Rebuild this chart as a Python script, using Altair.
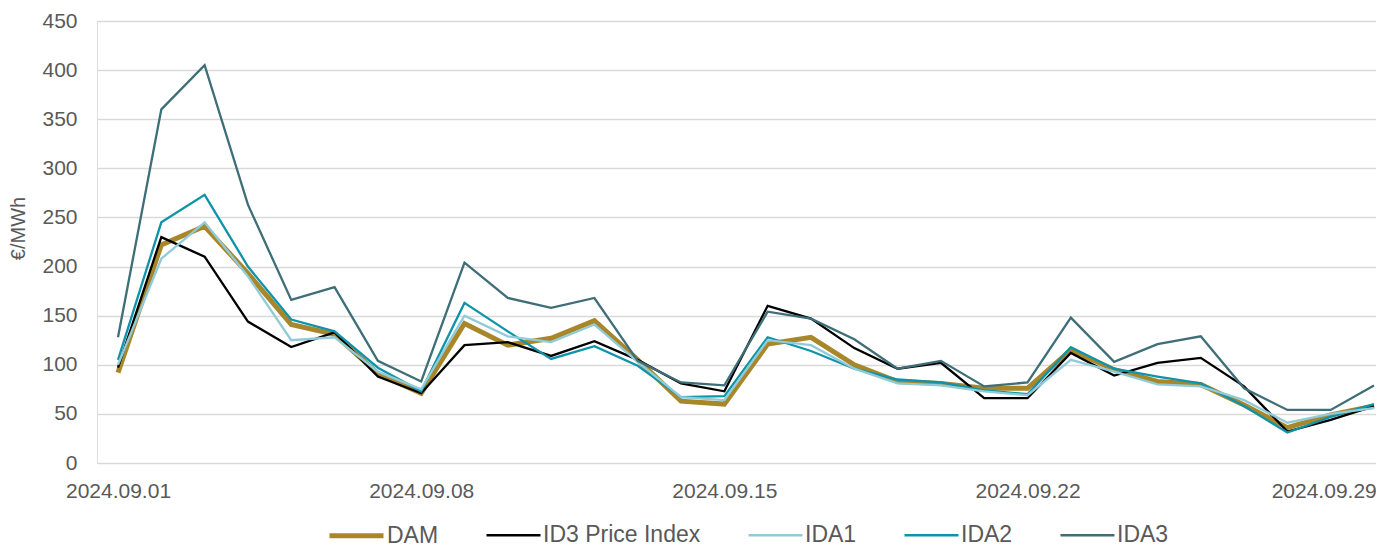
import altair as alt
import pandas as pd

# ---- data ----
dates = [f"2024.09.{d:02d}" for d in range(1, 31)]
series_names = ["DAM", "ID3 Price Index", "IDA1", "IDA2", "IDA3"]

DAM = [92, 222, 241, 193, 141, 131, 91, 71, 142, 120, 127, 145, 105, 63, 60,
       121, 128, 100, 83, 81, 76, 76, 115, 95, 83, 80, 59, 36, 49, 58]
ID3 = [97, 230, 210, 144, 118, 133, 88, 71, 120, 123, 109, 124, 105, 81, 73,
       160, 147, 117, 96, 102, 66, 66, 112, 89, 102, 107, 78, 32, 44, 58]
IDA1 = [100, 208, 245, 190, 125, 128, 93, 75, 150, 129, 123, 141, 103, 67, 64,
        125, 120, 96, 81, 79, 73, 69, 105, 93, 80, 78, 64, 41, 50, 56]
IDA2 = [105, 245, 273, 200, 146, 134, 97, 73, 163, 134, 106, 119, 99, 67, 68,
        128, 114, 96, 85, 82, 74, 70, 118, 96, 88, 81, 58, 31, 47, 60]
IDA3 = [128, 360, 405, 263, 166, 179, 104, 83, 204, 168, 158, 168, 104, 82, 79,
        154, 147, 126, 96, 104, 78, 82, 148, 103, 121, 129, 76, 54, 54, 79]

x_tick_labels = ["2024.09.01", "2024.09.08", "2024.09.15", "2024.09.22", "2024.09.29"]
y_ticks = [0, 50, 100, 150, 200, 250, 300, 350, 400, 450]

colors = ["#A8862A", "#000000", "#8FCBD8", "#0E93A9", "#3E6E77"]
widths = [5, 2.3, 2.3, 2.3, 2.3]
draw_order = ["DAM", "ID3 Price Index", "IDA2", "IDA1", "IDA3"]

values = {"DAM": DAM, "ID3 Price Index": ID3, "IDA1": IDA1, "IDA2": IDA2, "IDA3": IDA3}
rows = []
for s in series_names:
    for dt, v in zip(dates, values[s]):
        rows.append({"date": dt, "day": int(dt[-2:]), "series": s, "value": v})
df = pd.DataFrame(rows)

tick_days = [int(t[-2:]) for t in x_tick_labels]

FONT = "Liberation Sans"
GREY = "#595959"

legend = alt.Legend(
    title=None, orient="none", legendX=230, legendY=485, direction="horizontal",
    symbolType="stroke", symbolSize=2916, labelOffset=1, columnPadding=42,
    labelFontSize=23, labelColor=GREY, labelFont=FONT, padding=0,
    labelLimit=400,
)

base = alt.Chart(df).encode(
    x=alt.X("day:Q",
            scale=alt.Scale(domain=[0.515, 30.046], nice=False, zero=False),
            axis=alt.Axis(values=tick_days, title=None, grid=False, domain=False, ticks=False,
                          labelExpr="'2024.09.' + (datum.value < 10 ? '0' : '') + datum.value",
                          labelPadding=17, labelFontSize=21, labelColor=GREY, labelFont=FONT,
                          labelFlush=False, labelOverlap=False,
                          labelOffset={"condition": {"test": "datum.value == 29", "value": -7},
                                       "value": 0})),
    y=alt.Y("value:Q",
            scale=alt.Scale(domain=[0, 450], nice=False),
            axis=alt.Axis(values=y_ticks, title="€/MWh", grid=True, gridColor="#D9D9D9",
                          gridWidth=1.5, domain=False, ticks=False, labelPadding=20,
                          labelFontSize=21, labelColor=GREY, labelFont=FONT,
                          titleFontSize=20, titleFontWeight="normal", titleColor=GREY,
                          titleFont=FONT, titleX=-73, titleY=207, titleAngle=-90,
                          titleAlign="center", titleBaseline="alphabetic")),
    color=alt.Color("series:N", scale=alt.Scale(domain=series_names, range=colors), legend=legend),
    strokeWidth=alt.StrokeWidth("series:N",
                                scale=alt.Scale(type="ordinal", domain=series_names, range=widths),
                                legend=legend),
)

layers = [base.transform_filter(alt.datum.series == s).mark_line() for s in draw_order]

chart = alt.layer(*layers).properties(
    width=1279, height=442,
    padding={"left": 89, "top": 13, "right": 0, "bottom": 85},
    autosize=alt.AutoSizeParams(type="none"),
).configure_view(stroke=None).configure(font=FONT)

chart.save("out.html", embed_options={"renderer": "svg", "actions": False})
